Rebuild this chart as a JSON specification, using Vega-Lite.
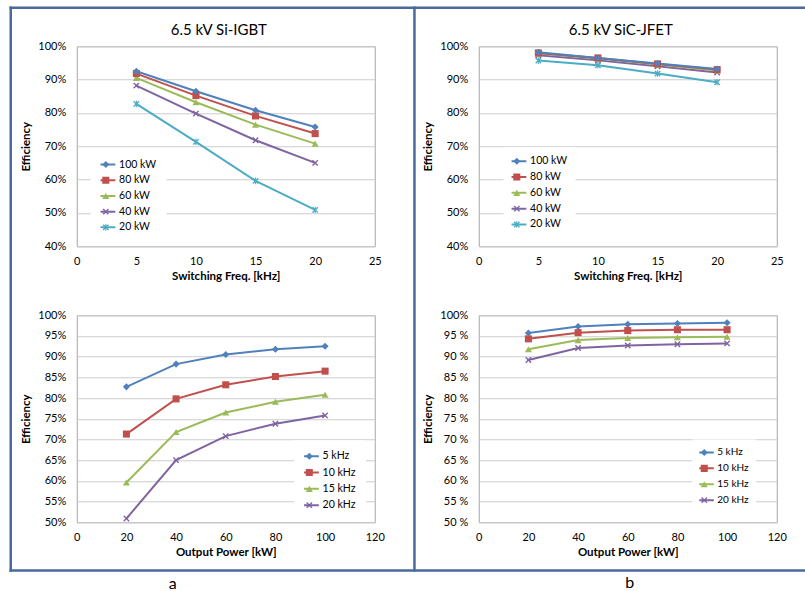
{
  "$schema": "https://vega.github.io/schema/vega-lite/v6.json",
  "background": "white",
  "autosize": {"type": "pad"},
  "padding": {"left": 7.75, "top": 5.25, "right": 0, "bottom": 0},
  "datasets": {
    "eff": [
      {"device": "Si-IGBT", "power": 20, "freq": 5, "eff": 0.827},
      {"device": "Si-IGBT", "power": 20, "freq": 10, "eff": 0.713},
      {"device": "Si-IGBT", "power": 20, "freq": 15, "eff": 0.596},
      {"device": "Si-IGBT", "power": 20, "freq": 20, "eff": 0.509},
      {"device": "Si-IGBT", "power": 40, "freq": 5, "eff": 0.882},
      {"device": "Si-IGBT", "power": 40, "freq": 10, "eff": 0.798},
      {"device": "Si-IGBT", "power": 40, "freq": 15, "eff": 0.718},
      {"device": "Si-IGBT", "power": 40, "freq": 20, "eff": 0.650},
      {"device": "Si-IGBT", "power": 60, "freq": 5, "eff": 0.905},
      {"device": "Si-IGBT", "power": 60, "freq": 10, "eff": 0.832},
      {"device": "Si-IGBT", "power": 60, "freq": 15, "eff": 0.765},
      {"device": "Si-IGBT", "power": 60, "freq": 20, "eff": 0.708},
      {"device": "Si-IGBT", "power": 80, "freq": 5, "eff": 0.918},
      {"device": "Si-IGBT", "power": 80, "freq": 10, "eff": 0.852},
      {"device": "Si-IGBT", "power": 80, "freq": 15, "eff": 0.791},
      {"device": "Si-IGBT", "power": 80, "freq": 20, "eff": 0.738},
      {"device": "Si-IGBT", "power": 100, "freq": 5, "eff": 0.925},
      {"device": "Si-IGBT", "power": 100, "freq": 10, "eff": 0.865},
      {"device": "Si-IGBT", "power": 100, "freq": 15, "eff": 0.808},
      {"device": "Si-IGBT", "power": 100, "freq": 20, "eff": 0.758},
      {"device": "SiC-JFET", "power": 20, "freq": 5, "eff": 0.957},
      {"device": "SiC-JFET", "power": 20, "freq": 10, "eff": 0.943},
      {"device": "SiC-JFET", "power": 20, "freq": 15, "eff": 0.918},
      {"device": "SiC-JFET", "power": 20, "freq": 20, "eff": 0.892},
      {"device": "SiC-JFET", "power": 40, "freq": 5, "eff": 0.973},
      {"device": "SiC-JFET", "power": 40, "freq": 10, "eff": 0.958},
      {"device": "SiC-JFET", "power": 40, "freq": 15, "eff": 0.940},
      {"device": "SiC-JFET", "power": 40, "freq": 20, "eff": 0.921},
      {"device": "SiC-JFET", "power": 60, "freq": 5, "eff": 0.978},
      {"device": "SiC-JFET", "power": 60, "freq": 10, "eff": 0.963},
      {"device": "SiC-JFET", "power": 60, "freq": 15, "eff": 0.945},
      {"device": "SiC-JFET", "power": 60, "freq": 20, "eff": 0.927},
      {"device": "SiC-JFET", "power": 80, "freq": 5, "eff": 0.980},
      {"device": "SiC-JFET", "power": 80, "freq": 10, "eff": 0.965},
      {"device": "SiC-JFET", "power": 80, "freq": 15, "eff": 0.947},
      {"device": "SiC-JFET", "power": 80, "freq": 20, "eff": 0.930},
      {"device": "SiC-JFET", "power": 100, "freq": 5, "eff": 0.982},
      {"device": "SiC-JFET", "power": 100, "freq": 10, "eff": 0.965},
      {"device": "SiC-JFET", "power": 100, "freq": 15, "eff": 0.948},
      {"device": "SiC-JFET", "power": 100, "freq": 20, "eff": 0.932}
    ]
  },
  "columns": 2,
  "spacing": {"row": 69, "column": 104},
  "bounds": "flush",
  "resolve": {"scale": {"stroke": "independent", "fill": "independent", "shape": "independent"}},
  "concat": [
    {
      "width": 298, "height": 200,
      "title": {"text": "6.5 kV Si-IGBT", "frame": "group", "dx": -7, "offset": 2},
      "layer": [
        {
          "data": {"name": "eff"},
          "transform": [{"filter": "datum.device === 'Si-IGBT'"}],
          "mark": {"type": "line", "strokeWidth": 2},
          "encoding": {
            "x": {"field": "freq", "type": "quantitative", "title": "Switching Freq. [kHz]", "scale": {"domain": [0, 25]}, "axis": {"values": [0, 5, 10, 15, 20, 25]}},
            "y": {"field": "eff", "type": "quantitative", "title": "Efficiency", "scale": {"domain": [0.4, 1]}, "axis": {"values": [0.4, 0.5, 0.6, 0.7, 0.8, 0.9, 1.0], "format": ".0%"}},
            "stroke": {"field": "power", "type": "ordinal", "sort": "descending",
              "scale": {"range": ["#4F81BD", "#C0504D", "#9BBB59", "#8064A2", "#4BACC6"]},
              "legend": {"title": null, "orient": "none", "legendX": 13.8, "legendY": 102.3, "padding": 10, "rowPadding": 3.7, "clipHeight": 12, "symbolType": "M-2.7,0L2.7,0", "symbolStrokeWidth": 2, "labelExpr": "datum.label + ' kW'", "fillColor": "white", "zindex": 1}}
          }
        },
        {
          "data": {"name": "eff"},
          "transform": [{"filter": "datum.device === 'Si-IGBT'"}],
          "mark": {"type": "point", "filled": true, "opacity": 1, "size": 50},
          "encoding": {
            "x": {"field": "freq", "type": "quantitative", "title": "Switching Freq. [kHz]", "scale": {"domain": [0, 25]}, "axis": {"values": [0, 5, 10, 15, 20, 25]}},
            "y": {"field": "eff", "type": "quantitative", "title": "Efficiency", "scale": {"domain": [0.4, 1]}, "axis": {"values": [0.4, 0.5, 0.6, 0.7, 0.8, 0.9, 1.0], "format": ".0%"}},
            "fill": {"field": "power", "type": "ordinal",
              "scale": {"domain": [100, 80, 60, 40, 20], "range": ["#4F81BD", "#C0504D", "#9BBB59", "#8064A2", "#4BACC6"]},
              "legend": {"title": null, "orient": "none", "legendX": 13.8, "legendY": 102.3, "padding": 10, "rowPadding": 3.7, "clipHeight": 12, "labelExpr": "' '", "zindex": 2}},
            "shape": {"field": "power", "type": "ordinal",
              "scale": {"domain": [100, 80, 60, 40, 20], "range": ["diamond", "square", "triangle-up", "M0,-0.28L0.62,-0.9L0.9,-0.62L0.28,0L0.9,0.62L0.62,0.9L0,0.28L-0.62,0.9L-0.9,0.62L-0.28,0L-0.9,-0.62L-0.62,-0.9Z", "M0,-0.28L0.62,-0.9L0.9,-0.62L0.28,0L0.9,0.62L0.62,0.9L0,0.28L-0.62,0.9L-0.9,0.62L-0.28,0L-0.9,-0.62L-0.62,-0.9ZM-0.14,-0.95L0.14,-0.95L0.14,0.95L-0.14,0.95Z"]},
              "legend": {"title": null, "orient": "none", "legendX": 13.8, "legendY": 102.3, "padding": 10, "rowPadding": 3.7, "clipHeight": 12, "labelExpr": "' '", "zindex": 2}}
          }
        }
      ]
    },
    {
      "width": 298, "height": 200,
      "title": {"text": "6.5 kV SiC-JFET", "frame": "group", "dx": -7, "offset": 2},
      "layer": [
        {
          "data": {"name": "eff"},
          "transform": [{"filter": "datum.device === 'SiC-JFET'"}],
          "mark": {"type": "line", "strokeWidth": 2},
          "encoding": {
            "x": {"field": "freq", "type": "quantitative", "title": "Switching Freq. [kHz]", "scale": {"domain": [0, 25]}, "axis": {"values": [0, 5, 10, 15, 20, 25]}},
            "y": {"field": "eff", "type": "quantitative", "title": "Efficiency", "scale": {"domain": [0.4, 1]}, "axis": {"values": [0.4, 0.5, 0.6, 0.7, 0.8, 0.9, 1.0], "format": ".0%"}},
            "stroke": {"field": "power", "type": "ordinal", "sort": "descending",
              "scale": {"range": ["#4F81BD", "#C0504D", "#9BBB59", "#8064A2", "#4BACC6"]},
              "legend": {"title": null, "orient": "none", "legendX": 24.8, "legendY": 101, "padding": 8, "rowPadding": 3.8, "clipHeight": 12, "symbolType": "M-2.7,0L2.7,0", "symbolStrokeWidth": 2, "labelExpr": "datum.label + ' kW'", "fillColor": "white", "zindex": 1}}
          }
        },
        {
          "data": {"name": "eff"},
          "transform": [{"filter": "datum.device === 'SiC-JFET'"}],
          "mark": {"type": "point", "filled": true, "opacity": 1, "size": 50},
          "encoding": {
            "x": {"field": "freq", "type": "quantitative", "title": "Switching Freq. [kHz]", "scale": {"domain": [0, 25]}, "axis": {"values": [0, 5, 10, 15, 20, 25]}},
            "y": {"field": "eff", "type": "quantitative", "title": "Efficiency", "scale": {"domain": [0.4, 1]}, "axis": {"values": [0.4, 0.5, 0.6, 0.7, 0.8, 0.9, 1.0], "format": ".0%"}},
            "fill": {"field": "power", "type": "ordinal",
              "scale": {"domain": [100, 80, 60, 40, 20], "range": ["#4F81BD", "#C0504D", "#9BBB59", "#8064A2", "#4BACC6"]},
              "legend": {"title": null, "orient": "none", "legendX": 24.8, "legendY": 101, "padding": 8, "rowPadding": 3.8, "clipHeight": 12, "labelExpr": "' '", "zindex": 2}},
            "shape": {"field": "power", "type": "ordinal",
              "scale": {"domain": [100, 80, 60, 40, 20], "range": ["diamond", "square", "triangle-up", "M0,-0.28L0.62,-0.9L0.9,-0.62L0.28,0L0.9,0.62L0.62,0.9L0,0.28L-0.62,0.9L-0.9,0.62L-0.28,0L-0.9,-0.62L-0.62,-0.9Z", "M0,-0.28L0.62,-0.9L0.9,-0.62L0.28,0L0.9,0.62L0.62,0.9L0,0.28L-0.62,0.9L-0.9,0.62L-0.28,0L-0.9,-0.62L-0.62,-0.9ZM-0.14,-0.95L0.14,-0.95L0.14,0.95L-0.14,0.95Z"]},
              "legend": {"title": null, "orient": "none", "legendX": 24.8, "legendY": 101, "padding": 8, "rowPadding": 3.8, "clipHeight": 12, "labelExpr": "' '", "zindex": 2}}
          }
        }
      ]
    },
    {
      "width": 298, "height": 207,
      "title": {"text": "a", "orient": "bottom", "frame": "group", "dx": -53, "offset": 4, "fontSize": 16},
      "layer": [
        {
          "data": {"name": "eff"},
          "transform": [{"filter": "datum.device === 'Si-IGBT'"}],
          "mark": {"type": "line", "strokeWidth": 2},
          "encoding": {
            "x": {"field": "power", "type": "quantitative", "title": "Output Power [kW]", "scale": {"domain": [0, 120]}, "axis": {"values": [0, 20, 40, 60, 80, 100, 120]}},
            "y": {"field": "eff", "type": "quantitative", "title": "Efficiency", "scale": {"domain": [0.5, 1]}, "axis": {"values": [0.5, 0.55, 0.6, 0.65, 0.7, 0.75, 0.8, 0.85, 0.9, 0.95, 1.0], "format": ".0%"}},
            "stroke": {"field": "freq", "type": "ordinal", "sort": "ascending",
              "scale": {"range": ["#4F81BD", "#C0504D", "#9BBB59", "#8064A2"]},
              "legend": {"title": null, "orient": "none", "legendX": 217.3, "legendY": 125, "padding": 10, "rowPadding": 4.3, "clipHeight": 12, "symbolType": "M-2.7,0L2.7,0", "symbolStrokeWidth": 2, "labelExpr": "datum.label + ' kHz'", "fillColor": "white", "zindex": 1}}
          }
        },
        {
          "data": {"name": "eff"},
          "transform": [{"filter": "datum.device === 'Si-IGBT'"}],
          "mark": {"type": "point", "filled": true, "opacity": 1, "size": 50},
          "encoding": {
            "x": {"field": "power", "type": "quantitative", "title": "Output Power [kW]", "scale": {"domain": [0, 120]}, "axis": {"values": [0, 20, 40, 60, 80, 100, 120]}},
            "y": {"field": "eff", "type": "quantitative", "title": "Efficiency", "scale": {"domain": [0.5, 1]}, "axis": {"values": [0.5, 0.55, 0.6, 0.65, 0.7, 0.75, 0.8, 0.85, 0.9, 0.95, 1.0], "format": ".0%"}},
            "fill": {"field": "freq", "type": "ordinal",
              "scale": {"domain": [5, 10, 15, 20], "range": ["#4F81BD", "#C0504D", "#9BBB59", "#8064A2"]},
              "legend": {"title": null, "orient": "none", "legendX": 217.3, "legendY": 125, "padding": 10, "rowPadding": 4.3, "clipHeight": 12, "labelExpr": "' '", "zindex": 2}},
            "shape": {"field": "freq", "type": "ordinal",
              "scale": {"domain": [5, 10, 15, 20], "range": ["diamond", "square", "triangle-up", "M0,-0.28L0.62,-0.9L0.9,-0.62L0.28,0L0.9,0.62L0.62,0.9L0,0.28L-0.62,0.9L-0.9,0.62L-0.28,0L-0.9,-0.62L-0.62,-0.9Z"]},
              "legend": {"title": null, "orient": "none", "legendX": 217.3, "legendY": 125, "padding": 10, "rowPadding": 4.3, "clipHeight": 12, "labelExpr": "' '", "zindex": 2}}
          }
        },
        {
          "data": {"values": [{}]},
          "mark": {"type": "rule", "color": "#4a6a9c", "strokeWidth": 2.5, "strokeCap": "square"},
          "encoding": {
            "x": {"datum": -26.58, "title": "Output Power [kW]", "axis": {"values": [0, 20, 40, 60, 80, 100, 120]}},
            "y": {"datum": 1.74275, "title": "Efficiency", "axis": {"values": [0.5, 0.55, 0.6, 0.65, 0.7, 0.75, 0.8, 0.85, 0.9, 0.95, 1.0], "format": ".0%"}},
            "y2": {"datum": 0.38333}
          }
        },
        {
          "data": {"values": [{}]},
          "mark": {"type": "rule", "color": "#4a6a9c", "strokeWidth": 2.5, "strokeCap": "square"},
          "encoding": {
            "x": {"datum": 135.99, "title": "Output Power [kW]", "axis": {"values": [0, 20, 40, 60, 80, 100, 120]}},
            "y": {"datum": 1.74275, "title": "Efficiency", "axis": {"values": [0.5, 0.55, 0.6, 0.65, 0.7, 0.75, 0.8, 0.85, 0.9, 0.95, 1.0], "format": ".0%"}},
            "y2": {"datum": 0.38333}
          }
        },
        {
          "data": {"values": [{}]},
          "mark": {"type": "rule", "color": "#4a6a9c", "strokeWidth": 2.5, "strokeCap": "square"},
          "encoding": {
            "y": {"datum": 1.74275, "title": "Efficiency", "axis": {"values": [0.5, 0.55, 0.6, 0.65, 0.7, 0.75, 0.8, 0.85, 0.9, 0.95, 1.0], "format": ".0%"}},
            "x": {"datum": -26.58, "title": "Output Power [kW]", "axis": {"values": [0, 20, 40, 60, 80, 100, 120]}},
            "x2": {"datum": 293.15}
          }
        },
        {
          "data": {"values": [{}]},
          "mark": {"type": "rule", "color": "#4a6a9c", "strokeWidth": 2.5, "strokeCap": "square"},
          "encoding": {
            "y": {"datum": 0.38333, "title": "Efficiency", "axis": {"values": [0.5, 0.55, 0.6, 0.65, 0.7, 0.75, 0.8, 0.85, 0.9, 0.95, 1.0], "format": ".0%"}},
            "x": {"datum": -26.58, "title": "Output Power [kW]", "axis": {"values": [0, 20, 40, 60, 80, 100, 120]}},
            "x2": {"datum": 293.15}
          }
        }
      ]
    },
    {
      "width": 298, "height": 207,
      "title": {"text": "b", "orient": "bottom", "frame": "group", "dx": 2, "offset": 17, "fontSize": 16},
      "layer": [
        {
          "data": {"name": "eff"},
          "transform": [{"filter": "datum.device === 'SiC-JFET'"}],
          "mark": {"type": "line", "strokeWidth": 2},
          "encoding": {
            "x": {"field": "power", "type": "quantitative", "title": "Output Power [kW]", "scale": {"domain": [0, 120]}, "axis": {"values": [0, 20, 40, 60, 80, 100, 120]}},
            "y": {"field": "eff", "type": "quantitative", "title": "Efficiency", "scale": {"domain": [0.5, 1]}, "axis": {"values": [0.5, 0.55, 0.6, 0.65, 0.7, 0.75, 0.8, 0.85, 0.9, 0.95, 1.0], "labelExpr": "datum.value > 0.995 ? '100%' : replace(format(datum.value, '.0%'), '%', ' %')"}},
            "stroke": {"field": "freq", "type": "ordinal", "sort": "ascending",
              "scale": {"range": ["#4F81BD", "#C0504D", "#9BBB59", "#8064A2"]},
              "legend": {"title": null, "orient": "none", "legendX": 213.5, "legendY": 124.2, "padding": 7, "rowPadding": 3.9, "clipHeight": 12, "labelFontSize": 10, "symbolType": "M-2.7,0L2.7,0", "symbolStrokeWidth": 2, "labelExpr": "datum.label + ' kHz'", "fillColor": "white", "zindex": 1}}
          }
        },
        {
          "data": {"name": "eff"},
          "transform": [{"filter": "datum.device === 'SiC-JFET'"}],
          "mark": {"type": "point", "filled": true, "opacity": 1, "size": 50},
          "encoding": {
            "x": {"field": "power", "type": "quantitative", "title": "Output Power [kW]", "scale": {"domain": [0, 120]}, "axis": {"values": [0, 20, 40, 60, 80, 100, 120]}},
            "y": {"field": "eff", "type": "quantitative", "title": "Efficiency", "scale": {"domain": [0.5, 1]}, "axis": {"values": [0.5, 0.55, 0.6, 0.65, 0.7, 0.75, 0.8, 0.85, 0.9, 0.95, 1.0], "labelExpr": "datum.value > 0.995 ? '100%' : replace(format(datum.value, '.0%'), '%', ' %')"}},
            "fill": {"field": "freq", "type": "ordinal",
              "scale": {"domain": [5, 10, 15, 20], "range": ["#4F81BD", "#C0504D", "#9BBB59", "#8064A2"]},
              "legend": {"title": null, "orient": "none", "legendX": 213.5, "legendY": 124.2, "padding": 7, "rowPadding": 3.9, "clipHeight": 12, "labelFontSize": 10, "labelExpr": "' '", "zindex": 2}},
            "shape": {"field": "freq", "type": "ordinal",
              "scale": {"domain": [5, 10, 15, 20], "range": ["diamond", "square", "triangle-up", "M0,-0.28L0.62,-0.9L0.9,-0.62L0.28,0L0.9,0.62L0.62,0.9L0,0.28L-0.62,0.9L-0.9,0.62L-0.28,0L-0.9,-0.62L-0.62,-0.9Z"]},
              "legend": {"title": null, "orient": "none", "legendX": 213.5, "legendY": 124.2, "padding": 7, "rowPadding": 3.9, "clipHeight": 12, "labelFontSize": 10, "labelExpr": "' '", "zindex": 2}}
          }
        }
      ]
    }
  ],
  "config": {
    "font": "Lato",
    "view": {"stroke": "#a6a6a6", "strokeWidth": 1},
    "axis": {"domain": false, "ticks": false, "labelOverlap": false, "labelFlush": false, "gridColor": "#cccccc", "gridWidth": 1, "labelFont": "Lato", "labelFontSize": 11, "labelColor": "#000000", "titleFont": "Lato", "titleFontSize": 11.5, "titleFontWeight": "bold", "titleColor": "#000000"},
    "axisX": {"grid": false, "labelPadding": 9, "titlePadding": 4},
    "axisY": {"grid": true, "labelPadding": 11, "titlePadding": 6},
    "legend": {"labelFont": "Lato", "labelFontSize": 10.5, "labelColor": "#000000", "symbolSize": 50, "labelOffset": 8},
    "title": {"font": "Lato", "fontSize": 15, "fontWeight": "normal", "color": "#000000"}
  }
}
